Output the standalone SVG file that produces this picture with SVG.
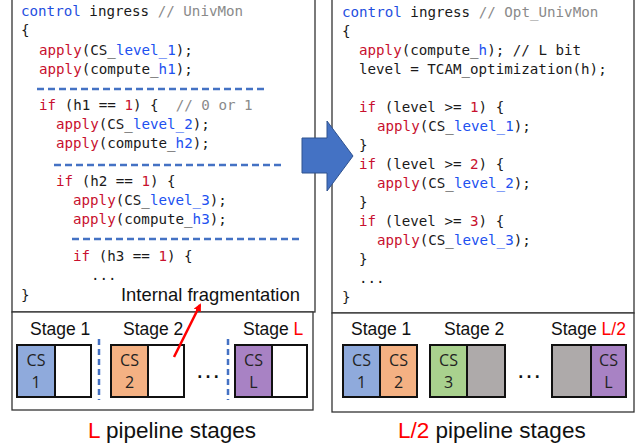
<svg xmlns="http://www.w3.org/2000/svg" width="640" height="448" viewBox="0 0 640 448">
<style>
.code{font-family:"DejaVu Sans Mono","Liberation Mono",monospace;font-size:14.2px;fill:#1a1a1a;white-space:pre}
.kw{fill:#1F4FE0}
.rd{fill:#C8102E}
.bl{fill:#2050F0}
.cm{fill:#8a8a8a}
.lbl{font-family:"Liberation Sans",Arial,sans-serif;fill:#111}
.cs{font-family:"Open Sans","Liberation Sans",Arial,sans-serif;font-size:16px;fill:#222;text-anchor:middle}
.panel{fill:#fff;stroke:#333;stroke-width:1.3}
.cell{stroke:#111;stroke-width:2}
.dash{stroke:#4472C4;stroke-width:2.5;stroke-dasharray:7 4;fill:none}
.vdash{stroke:#4472C4;stroke-width:2.5;stroke-dasharray:6 4;fill:none}
.red{fill:#FF0000}
</style>
<defs>
<marker id="rh" markerWidth="8" markerHeight="8" refX="6" refY="4" orient="auto" markerUnits="userSpaceOnUse">
<path d="M0,0 L8,4 L0,8 Z" fill="#FF0000"/>
</marker>
</defs>

<g id="left-code">
<rect class="panel" x="12" y="-2" width="303" height="314"/>
<text class="code" x="21" y="16"><tspan class="kw">control</tspan> ingress <tspan class="cm">// UnivMon</tspan></text>
<text class="code" x="21" y="35">{</text>
<text class="code" x="39" y="55"><tspan class="rd">apply</tspan>(CS_<tspan class="bl">level_1</tspan>);</text>
<text class="code" x="39" y="74"><tspan class="rd">apply</tspan>(compute_<tspan class="bl">h1</tspan>);</text>
<line class="dash" x1="37" y1="89" x2="265" y2="89"/>
<text class="code" x="39" y="110"><tspan class="rd">if</tspan> (h1 == <tspan class="rd">1</tspan>) {  <tspan class="cm">// 0 or 1</tspan></text>
<text class="code" x="56" y="129"><tspan class="rd">apply</tspan>(CS_<tspan class="bl">level_2</tspan>);</text>
<text class="code" x="56" y="148"><tspan class="rd">apply</tspan>(compute_<tspan class="bl">h2</tspan>);</text>
<line class="dash" x1="54" y1="165" x2="283" y2="165"/>
<text class="code" x="56" y="186"><tspan class="rd">if</tspan> (h2 == <tspan class="rd">1</tspan>) {</text>
<text class="code" x="73" y="205"><tspan class="rd">apply</tspan>(CS_<tspan class="bl">level_3</tspan>);</text>
<text class="code" x="73" y="224"><tspan class="rd">apply</tspan>(compute_<tspan class="bl">h3</tspan>);</text>
<line class="dash" x1="72" y1="239" x2="299" y2="239"/>
<text class="code" x="73" y="261"><tspan class="rd">if</tspan> (h3 == <tspan class="rd">1</tspan>) {</text>
<text class="code" x="91" y="280">...</text>
<text class="code" x="21" y="300">}</text>
<text class="lbl" x="121" y="301" font-size="18.4">Internal fragmentation</text>
</g>

<g id="left-stages">
<rect class="panel" x="12" y="312" width="301" height="98"/>
<text class="lbl" x="30" y="335" font-size="17.5">Stage 1</text>
<text class="lbl" x="123" y="335" font-size="17.5">Stage 2</text>
<text class="lbl" x="243" y="335" font-size="17.5">Stage <tspan class="red">L</tspan></text>
<rect class="cell" x="17" y="345" width="38" height="52" fill="#8FAADC"/>
<rect class="cell" x="55" y="345" width="36" height="52" fill="#fff"/>
<text class="cs" x="36" y="366">CS</text><text class="cs" x="36" y="388">1</text>
<rect class="cell" x="111" y="345" width="37" height="52" fill="#F4B183"/>
<rect class="cell" x="148" y="345" width="36" height="52" fill="#fff"/>
<text class="cs" x="129.5" y="366">CS</text><text class="cs" x="129.5" y="388">2</text>
<rect class="cell" x="235" y="345" width="37" height="52" fill="#A882C4"/>
<rect class="cell" x="272" y="345" width="35" height="52" fill="#fff"/>
<text class="cs" x="253.5" y="366">CS</text><text class="cs" x="253.5" y="388">L</text>
<line class="vdash" x1="99" y1="339" x2="99" y2="400"/>
<line class="vdash" x1="228" y1="339" x2="228" y2="400"/>
<text class="lbl" x="208" y="378" font-size="26" text-anchor="middle">…</text>
<text class="lbl" x="88" y="438" font-size="22.5"><tspan class="red">L</tspan> pipeline stages</text>
</g>

<g id="right-code">
<rect class="panel" x="332" y="-2" width="302" height="315"/>
<text class="code" x="342" y="17"><tspan class="kw">control</tspan> ingress <tspan class="cm">// Opt_UnivMon</tspan></text>
<text class="code" x="342" y="36">{</text>
<text class="code" x="359" y="55"><tspan class="rd">apply</tspan>(compute_<tspan class="bl">h</tspan>); // L bit</text>
<text class="code" x="359" y="74">level = TCAM_optimization(h);</text>
<text class="code" x="359" y="112"><tspan class="rd">if</tspan> (level &gt;= <tspan class="rd">1</tspan>) {</text>
<text class="code" x="377" y="131"><tspan class="rd">apply</tspan>(CS_<tspan class="bl">level_1</tspan>);</text>
<text class="code" x="359" y="150">}</text>
<text class="code" x="359" y="169"><tspan class="rd">if</tspan> (level &gt;= <tspan class="rd">2</tspan>) {</text>
<text class="code" x="377" y="188"><tspan class="rd">apply</tspan>(CS_<tspan class="bl">level_2</tspan>);</text>
<text class="code" x="359" y="207">}</text>
<text class="code" x="359" y="226"><tspan class="rd">if</tspan> (level &gt;= <tspan class="rd">3</tspan>) {</text>
<text class="code" x="377" y="245"><tspan class="rd">apply</tspan>(CS_<tspan class="bl">level_3</tspan>);</text>
<text class="code" x="359" y="264">}</text>
<text class="code" x="359" y="283">...</text>
<text class="code" x="342" y="302">}</text>
</g>

<g id="right-stages">
<rect class="panel" x="332" y="313" width="302" height="99"/>
<text class="lbl" x="351" y="335" font-size="17.5">Stage 1</text>
<text class="lbl" x="444" y="335" font-size="17.5">Stage 2</text>
<text class="lbl" x="551" y="335" font-size="17.5">Stage <tspan class="red">L/2</tspan></text>
<rect class="cell" x="343" y="345" width="37" height="52" fill="#8FAADC"/>
<rect class="cell" x="380" y="345" width="37" height="52" fill="#F4B183"/>
<text class="cs" x="361.5" y="366">CS</text><text class="cs" x="361.5" y="388">1</text>
<text class="cs" x="398.5" y="366">CS</text><text class="cs" x="398.5" y="388">2</text>
<rect class="cell" x="430" y="345" width="37" height="52" fill="#A9D18E"/>
<rect class="cell" x="467" y="345" width="38" height="52" fill="#AEAAAA"/>
<text class="cs" x="448.5" y="366">CS</text><text class="cs" x="448.5" y="388">3</text>
<rect class="cell" x="552" y="345" width="39" height="52" fill="#AEAAAA"/>
<rect class="cell" x="591" y="345" width="35" height="52" fill="#A882C4"/>
<text class="cs" x="608.5" y="366">CS</text><text class="cs" x="608.5" y="388">L</text>
<text class="lbl" x="529" y="378" font-size="26" text-anchor="middle">…</text>
<text class="lbl" x="398" y="438" font-size="22.5"><tspan class="red">L/2</tspan> pipeline stages</text>
</g>

<g id="connectors">
<path d="M302,138 L327,138 L327,121 L353,156 L327,191 L327,173 L302,173 Z" fill="#4472C4" stroke="#2F528F" stroke-width="1"/>
<line x1="174" y1="357" x2="200" y2="305" stroke="#FF0000" stroke-width="2.5" marker-end="url(#rh)"/>
</g>
</svg>
